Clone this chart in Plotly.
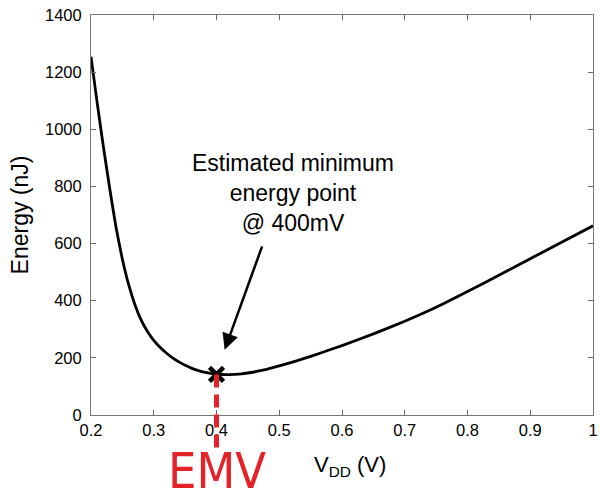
import plotly.graph_objects as go

# Data
vdd = [0.20, 0.21, 0.22, 0.23, 0.24, 0.25, 0.26, 0.27, 0.28, 0.29, 0.30, 0.31, 0.32,
       0.33, 0.34, 0.35, 0.36, 0.37, 0.38, 0.39, 0.40, 0.41, 0.42, 0.43, 0.44, 0.45,
       0.46, 0.47, 0.48, 0.49, 0.50, 0.525, 0.55, 0.575, 0.60, 0.65, 0.70, 0.75,
       0.80, 0.85, 0.90, 0.95, 1.00]
energy = [1254, 1090, 935, 790, 655, 545, 456, 386, 332, 292, 261, 237, 217,
          200, 186, 174, 164, 156, 150, 146, 143, 141.8, 141.5, 142, 143.8, 147,
          150.5, 155, 160, 166, 172, 188, 205, 224, 243, 284, 328, 377,
          432, 489, 547, 605, 662]
min_point_x = [0.40]
min_point_y = [142]
x_ticks = [0.2, 0.3, 0.4, 0.5, 0.6, 0.7, 0.8, 0.9, 1.0]
y_ticks = [0, 200, 400, 600, 800, 1000, 1200, 1400]
x_range = [0.2, 1.0]
y_range = [0, 1400]

FONT = "Liberation Sans, Arial, sans-serif"
RED = "#e52228"

fig = go.Figure()
fig.add_trace(go.Scatter(x=vdd, y=energy, mode="lines",
                         line=dict(color="black", width=2.8, shape="spline", smoothing=0.4),
                         hoverinfo="skip", showlegend=False))
fig.add_trace(go.Scatter(x=min_point_x, y=min_point_y, mode="markers",
                         marker=dict(symbol="x-thin", size=14,
                                     line=dict(color="black", width=4.5)),
                         showlegend=False, cliponaxis=False))

axis_common = dict(showgrid=False, zeroline=False, ticks="inside", ticklen=5,
                   tickcolor="#666666", showline=True, linecolor="#777777",
                   linewidth=1, mirror="ticks", ticklabeloverflow="allow",
                   tickfont=dict(family=FONT, size=16.5, color="black"))

fig.update_xaxes(range=x_range, tickvals=x_ticks,
                 ticktext=[("%g" % v) for v in x_ticks],
                 **axis_common)
fig.update_yaxes(range=y_range, tickvals=y_ticks, tickformat="d",
                 ticklabelstandoff=5,
                 title=dict(text="Energy (nJ)",
                            font=dict(family=FONT, size=23, color="black"),
                            standoff=9),
                 **axis_common)

# x-axis title (slightly right of centre, as in the reference)
fig.add_annotation(x=0.515, xref="paper", y=-0.088, yref="paper", yanchor="top",
                   text="V<sub>DD</sub> (V)", showarrow=False,
                   font=dict(family=FONT, size=22, color="black"))

# Red dashed hand-drawn line from the minimum point down below the axis
fig.add_shape(type="line", xref="x", yref="paper",
              x0=min_point_x[0], x1=min_point_x[0],
              y0=min_point_y[0] / y_range[1], y1=-0.088,
              line=dict(color=RED, width=5, dash="13px,7px"), layer="above")

# EMV label
fig.add_annotation(x=min_point_x[0], xref="x", y=-0.14, yref="paper",
                   text="EMV", showarrow=False, yanchor="middle",
                   font=dict(family="DejaVu Sans Condensed, DejaVu Sans, sans-serif",
                             size=50, color=RED))

# Text annotation
fig.add_annotation(x=0.522, xref="x", y=777, yref="y",
                   text="Estimated minimum<br>energy point<br>@ 400mV",
                   showarrow=False, align="center",
                   font=dict(family=FONT, size=23, color="black"))

# Arrow
fig.add_annotation(x=0.413, xref="x", y=228, yref="y", text="",
                   showarrow=True, arrowhead=2, arrowsize=1.3, arrowwidth=2.5,
                   arrowcolor="black", ax=38, ay=-105, standoff=0)

fig.update_layout(width=600, height=496,
                  margin=dict(l=91, r=2, t=15, b=81),
                  paper_bgcolor="white", plot_bgcolor="white",
                  font=dict(family=FONT))

fig.write_html("out.html")
